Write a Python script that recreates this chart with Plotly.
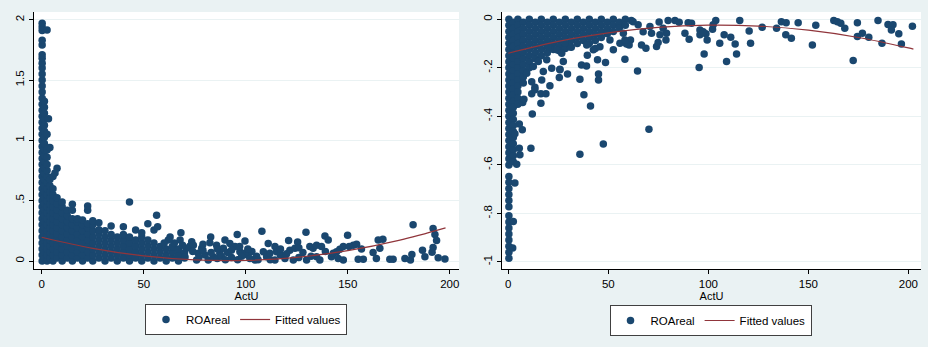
import plotly.graph_objects as go

# ---------------- Left panel: ROAreal (positive) vs ActU ----------------
left_col_x = [0.2, 1.3, 2.6, 4.0, 5.5, 7.5, 10, 12.5, 15, 17.5, 20, 22.5, 25, 28,
              31, 34, 37, 40, 43, 46, 49, 52, 55, 58, 61, 64, 67, 70]
left_col_y = [
    [0.0, 0.05, 0.1, 0.15, 0.2, 0.25, 0.3, 0.35, 0.4, 0.45, 0.5, 0.55, 0.6, 0.65, 0.7, 0.75,
     0.8, 0.85, 0.9, 0.95, 1.0, 1.05, 1.1, 1.15, 1.2, 1.25, 1.3, 1.35, 1.4, 1.45, 1.5, 1.55,
     1.6, 1.64, 1.68, 1.71, 1.79, 1.83, 1.91, 1.94, 1.97],
    [0.025, 0.075, 0.125, 0.175, 0.225, 0.275, 0.325, 0.375, 0.425, 0.475, 0.525, 0.575,
     0.625, 0.675, 0.725, 0.775, 0.825, 0.875, 0.925, 0.975, 1.025, 1.075, 1.125, 1.175,
     1.225, 1.275, 1.325],
    [0.0, 0.05, 0.1, 0.15, 0.2, 0.25, 0.3, 0.35, 0.4, 0.45, 0.5, 0.55, 0.6, 0.65, 0.7, 0.75,
     0.8, 0.86, 0.92, 1.05],
    [0.025, 0.075, 0.125, 0.175, 0.225, 0.275, 0.325, 0.375, 0.425, 0.475, 0.525, 0.575,
     0.625, 0.675, 0.94],
    [0.0, 0.05, 0.1, 0.15, 0.2, 0.25, 0.3, 0.35, 0.4, 0.45, 0.5, 0.55, 0.6, 0.7],
    [0.025, 0.075, 0.125, 0.175, 0.225, 0.275, 0.325, 0.375, 0.425, 0.475, 0.525, 0.77],
    [0.0, 0.05, 0.1, 0.15, 0.2, 0.25, 0.3, 0.35, 0.4, 0.45, 0.49],
    [0.025, 0.075, 0.125, 0.175, 0.225, 0.275, 0.325, 0.375, 0.42],
    [0.0, 0.05, 0.1, 0.15, 0.2, 0.25, 0.3, 0.35, 0.42, 0.47],
    [0.025, 0.075, 0.125, 0.175, 0.225, 0.275, 0.325, 0.35],
    [0.0, 0.05, 0.1, 0.15, 0.2, 0.25, 0.3, 0.34],
    [0.025, 0.075, 0.125, 0.175, 0.225, 0.275, 0.31, 0.42, 0.456],
    [0.0, 0.05, 0.1, 0.15, 0.2, 0.25, 0.3, 0.334],
    [0.025, 0.075, 0.125, 0.175, 0.225, 0.26, 0.318],
    [0.0, 0.05, 0.1, 0.15, 0.2, 0.25],
    [0.025, 0.075, 0.125, 0.175, 0.22, 0.29],
    [0.0, 0.05, 0.1, 0.15, 0.2],
    [0.025, 0.075, 0.125, 0.175, 0.22, 0.285],
    [0.0, 0.05, 0.1, 0.15, 0.2, 0.49],
    [0.025, 0.075, 0.125, 0.175, 0.257],
    [0.0, 0.05, 0.1, 0.15, 0.2, 0.235],
    [0.025, 0.075, 0.125, 0.175, 0.31],
    [0.0, 0.05, 0.1, 0.15, 0.257],
    [0.025, 0.075, 0.12],
    [0.0, 0.05, 0.1],
    [0.025, 0.075, 0.12],
    [0.0, 0.05, 0.1],
    [0.025, 0.07],
]
left_sparse_x = [3.3, 2.6, 6.5, 56.3, 56.8, 62.9, 62, 67.8, 68.2, 72.7,
                 73.5, 74.3, 71, 70.2, 75.9, 76.7, 78.4, 80, 81.6, 82.4,
                 82.8, 84.1, 85.7, 87.3, 89, 89.8, 92.2, 94.7, 95.8, 97.1,
                 99.6, 99.6, 100.8, 104.5, 105.3, 107.9, 108.6, 110.2, 111, 111.8,
                 114.3, 114.3, 115.1, 119.2, 121, 121.6, 123.3, 124.1, 125.4, 129.5,
                 129.8, 131.4, 133, 134.7, 134.7, 136.3, 137.1, 138.8, 140.4, 142,
                 142.9, 144.5, 145.3, 146.1, 147.8, 147.8, 149.9, 150.7, 152.7, 154.3,
                 155.1, 156.7, 157.6, 162.4, 164, 164.9, 165.7, 167.2, 170.6, 172.2,
                 178, 180.7, 181.4, 182, 186.6, 187.8, 191.3, 191.8, 191.8, 192.7,
                 193.5, 194.3, 197.6, 77, 79, 83, 86, 88, 90, 91,
                 93, 96, 98, 102, 103, 106, 112, 117, 120, 126,
                 128, 132, 139, 60, 65, 69, 74, 79, 86, 93,
                 97, 101, 117, 126]
left_sparse_y = [1.18, 1.915, 0.73, 0.38, 0.285, 0.2, 0.174, 0.174, 0.235, 0.124,
                 0.16, 0.13, 0.105, 0.036, 0.008, 0.064, 0.105, 0.05, 0.008, 0.152,
                 0.2, 0.036, 0.13, 0.064, 0.105, 0.174, 0.146, 0.12, 0.22, 0.077,
                 0.064, 0.166, 0.05, 0.008, 0.04, 0.246, 0.077, 0.036, 0.146, 0.064,
                 0.12, 0.008, 0.077, 0.022, 0.17, 0.09, 0.008, 0.105, 0.157, 0.238,
                 0.008, 0.12, 0.105, 0.13, 0.036, 0.008, 0.12, 0.207, 0.174, 0.036,
                 0.064, 0.077, 0.022, 0.097, 0.12, 0.008, 0.213, 0.12, 0.13, 0.14,
                 0.014, 0.1, 0.014, 0.07, 0.02, 0.174, 0.105, 0.18, 0.014, 0.014,
                 0.022, 0.008, 0.055, 0.3, 0.09, 0.036, 0.072, 0.113, 0.27, 0.22,
                 0.17, 0.028, 0.017, 0.03, 0.09, 0.07, 0.02, 0.04, 0.01, 0.07,
                 0.03, 0.01, 0.04, 0.02, 0.08, 0.01, 0.01, 0.05, 0.06, 0.03,
                 0.07, 0.04, 0.08, 0.15, 0.15, 0.13, 0.08, 0.14, 0.1, 0.09,
                 0.12, 0.1, 0.1, 0.11]
left_fit_x = [0, 25, 50, 75, 100, 125, 150, 175, 197.9]
left_fit_y = [0.197, 0.105, 0.042, 0.009, 0.005, 0.031, 0.086, 0.171, 0.275]

# ---------------- Right panel: ROAreal (negative) vs ActU ----------------
right_col_x = [0.3, 2.5, 4.8, 7.5, 10.5, 13.5, 16.5, 19.5, 22.5, 25.5, 28.5,
               31.5, 34.5, 37.5, 40.5, 43.5, 46.5, 49.5, 52.5, 55.5, 58.5, 61.5]
right_col_y = [
    [0, -0.025, -0.05, -0.075, -0.1, -0.125, -0.15, -0.175, -0.2, -0.225, -0.25, -0.275,
     -0.3, -0.325, -0.35, -0.375, -0.4, -0.425, -0.45, -0.475, -0.5, -0.525, -0.55, -0.575,
     -0.6, -0.648, -0.672, -0.697, -0.722, -0.747, -0.772, -0.81, -0.835, -0.86, -0.885,
     -0.91, -0.935, -0.96, -0.985],
    [-0.0125, -0.0375, -0.0625, -0.0875, -0.1125, -0.1375, -0.1625, -0.1875, -0.2125,
     -0.2375, -0.2625, -0.2875, -0.3125, -0.3375, -0.3625, -0.3875, -0.4125, -0.4375,
     -0.4625, -0.4875, -0.5125, -0.5375, -0.5625, -0.5875],
    [0, -0.025, -0.05, -0.075, -0.1, -0.125, -0.15, -0.175, -0.2, -0.225, -0.25, -0.275,
     -0.3, -0.325, -0.35],
    [-0.0125, -0.0375, -0.0625, -0.0875, -0.1125, -0.1375, -0.1625, -0.1875, -0.2125,
     -0.2375, -0.2625],
    [0, -0.025, -0.05, -0.075, -0.1, -0.125, -0.15, -0.175, -0.2],
    [-0.0125, -0.0375, -0.0625, -0.0875, -0.1125, -0.1375, -0.1625],
    [0, -0.025, -0.05, -0.075, -0.1, -0.125, -0.15],
    [-0.0125, -0.0375, -0.0625, -0.0875, -0.1125, -0.1375],
    [0, -0.025, -0.05, -0.075, -0.1, -0.125],
    [-0.0125, -0.0375, -0.0625, -0.0875, -0.1125, -0.13],
    [0, -0.025, -0.05, -0.075, -0.1, -0.12],
    [-0.0125, -0.0375, -0.0625, -0.0875, -0.115],
    [0, -0.025, -0.05, -0.075, -0.1],
    [-0.0125, -0.0375, -0.0625, -0.0875],
    [0, -0.025, -0.05, -0.075, -0.1],
    [-0.0125, -0.0375, -0.0625, -0.0875, -0.12],
    [0, -0.025, -0.05, -0.075],
    [-0.0125, -0.0375, -0.06],
    [0, -0.025, -0.05],
    [-0.0125, -0.035],
    [0, -0.025],
    [-0.005],
]
right_sparse_x = [70.3, 47.5, 35.8, 11.3, 12, 41.1, 37.8, 35.8, 45.1, 45.1,
                  29.6, 25.5, 25.8, 20.8, 16.3, 16.3, 18.8, 11.7, 13.3, 7.2,
                  7.8, 7, 5.5, 3.3, 4.2, 5.5, 5.8, 3.3, 2.5, 2.2,
                  64.6, 58.3, 44.6, 48.6, 39.5, 36.6, 39.1, 95.4, 97.9, 109.1,
                  114.1, 113.4, 111.2, 107.9, 105.7, 121.1, 120.4, 115.7, 103.7, 102.1,
                  102.4, 99.4, 98.8, 95.8, 95.8, 97.4, 90.4, 88.3, 91.6, 89.9,
                  85.4, 83.3, 79.9, 75.4, 77.4, 79.1, 78.8, 75.8, 74.1, 74.9,
                  71.6, 70.8, 68.8, 66.6, 67.4, 64.9, 62.4, 61.1, 60.4, 57.5,
                  59.1, 126.9, 134.1, 136.5, 138.9, 138.7, 141.5, 144.9, 152, 153.7,
                  162.7, 164.5, 166.2, 168.2, 172.4, 174.5, 174.5, 177, 180.2, 184.8,
                  186.8, 189.8, 192.3, 191.5, 195.2, 196.5, 202, 12.5, 15, 19.2,
                  17.5, 21.7, 25.8, 27.5, 24.2, 26.7, 16.7, 13.3, 11.7, 9.2,
                  20, 42.5, 45.8, 52.5, 55.8, 58.3, 50.8, 39.2, 30.8, 28.3]
right_sparse_y = [-0.453, -0.514, -0.556, -0.531, -0.39, -0.357, -0.311, -0.247, -0.25, -0.225,
                  -0.225, -0.24, -0.206, -0.274, -0.346, -0.307, -0.307, -0.307, -0.28, -0.343,
                  -0.33, -0.455, -0.431, -0.472, -0.597, -0.531, -0.558, -0.675, -0.833, -0.942,
                  -0.213, -0.165, -0.167, -0.178, -0.148, -0.188, -0.192, -0.199, -0.143, -0.174,
                  -0.143, -0.102, -0.074, -0.064, -0.099, -0.099, -0.048, -0.005, -0.005, -0.041,
                  -0.023, -0.085, -0.06, -0.044, -0.064, -0.051, -0.082, -0.058, -0.016, -0.014,
                  -0.012, -0.005, -0.005, -0.011, -0.037, -0.058, -0.085, -0.064, -0.112, -0.096,
                  -0.058, -0.03, -0.119, -0.106, -0.051, -0.023, -0.01, -0.085, -0.106, -0.058,
                  -0.102, -0.033, -0.037, -0.01, -0.014, -0.064, -0.078, -0.014, -0.106, -0.025,
                  -0.005, -0.01, -0.016, -0.037, -0.17, -0.014, -0.071, -0.058, -0.074, -0.005,
                  -0.099, -0.021, -0.023, -0.044, -0.06, -0.102, -0.029, -0.195, -0.174, -0.167,
                  -0.215, -0.202, -0.208, -0.174, -0.126, -0.14, -0.25, -0.29, -0.257, -0.222,
                  -0.113, -0.126, -0.113, -0.126, -0.099, -0.085, -0.085, -0.106, -0.113, -0.099]
right_fit_x = [0, 25, 50, 75, 100, 125, 150, 175, 200, 202.5]
right_fit_y = [-0.14, -0.091, -0.056, -0.033, -0.024, -0.028, -0.045, -0.075, -0.118, -0.123]

x_ticks = [0, 50, 100, 150, 200]
x_tick_text = ["0", "50", "100", "150", "200"]
left_y_ticks = [0, 0.5, 1, 1.5, 2]
left_y_text = ["0", ".5", "1", "1.5", "2"]
right_y_ticks = [-1, -0.8, -0.6, -0.4, -0.2, 0]
right_y_text = ["-1", "-.8", "-.6", "-.4", "-.2", "0"]

assert len(left_sparse_x) == len(left_sparse_y)
assert len(right_sparse_x) == len(right_sparse_y)


def flatten(col_x, col_y, sx, sy):
    xs, ys = [], []
    for cx, cys in zip(col_x, col_y):
        xs += [cx] * len(cys)
        ys += list(cys)
    return xs + list(sx), ys + list(sy)


lx, ly = flatten(left_col_x, left_col_y, left_sparse_x, left_sparse_y)
rx, ry = flatten(right_col_x, right_col_y, right_sparse_x, right_sparse_y)

NAVY = "#1a476f"
MAROON = "#90353b"
BG = "#eaf2f3"
FONT = "Liberation Sans, Arial, sans-serif"
W, H = 933, 349
MSIZE = 7.5

fig = go.Figure()
fig.add_trace(go.Scatter(x=lx, y=ly, mode="markers", name="ROAreal",
                         marker=dict(color=NAVY, size=MSIZE, line=dict(width=0)),
                         xaxis="x", yaxis="y", legend="legend"))
fig.add_trace(go.Scatter(x=left_fit_x, y=left_fit_y, mode="lines", name="Fitted values",
                         line=dict(color=MAROON, width=1.2, shape="spline"),
                         xaxis="x", yaxis="y", legend="legend"))
fig.add_trace(go.Scatter(x=rx, y=ry, mode="markers", name="ROAreal",
                         marker=dict(color=NAVY, size=MSIZE, line=dict(width=0)),
                         xaxis="x2", yaxis="y2", legend="legend2"))
fig.add_trace(go.Scatter(x=right_fit_x, y=right_fit_y, mode="lines", name="Fitted values",
                         line=dict(color=MAROON, width=1.2, shape="spline"),
                         xaxis="x2", yaxis="y2", legend="legend2"))

axis_common = dict(showline=True, linecolor="#000", linewidth=1, ticks="outside",
                   ticklen=4, tickcolor="#000", tickfont=dict(size=11.5, color="#000"),
                   zeroline=False, mirror=False)

ydom = [1 - 269 / H, 1 - 12 / H]
fig.update_layout(
    width=W, height=H,
    margin=dict(l=0, r=0, t=0, b=0),
    paper_bgcolor=BG, plot_bgcolor="white",
    font=dict(family=FONT, color="#000", size=11.5),
    xaxis=dict(domain=[34 / W, 459 / W], range=[-3.8, 204.5], tickvals=x_ticks,
               ticktext=x_tick_text, showgrid=False, anchor="y",
               title=dict(text="ActU", font=dict(size=11), standoff=2), **axis_common),
    yaxis=dict(domain=ydom, range=[-0.066, 2.064], tickvals=left_y_ticks,
               ticktext=left_y_text, tickangle=-90, showgrid=True, gridcolor=BG,
               gridwidth=1, anchor="x", **axis_common),
    xaxis2=dict(domain=[502 / W, 921 / W], range=[-3.15, 206.3], tickvals=x_ticks,
                ticktext=x_tick_text, showgrid=False, anchor="y2",
                title=dict(text="ActU", font=dict(size=11), standoff=2), **axis_common),
    yaxis2=dict(domain=ydom, range=[-1.029, 0.030], tickvals=right_y_ticks,
                ticktext=right_y_text, tickangle=-90, showgrid=True, gridcolor=BG,
                gridwidth=1, anchor="x2", **axis_common),
    legend=dict(orientation="h", x=246 / W, xanchor="center", y=1 - 319.5 / H,
                yanchor="middle", bgcolor="white", bordercolor="#404040", borderwidth=1,
                font=dict(size=11.5), itemwidth=30),
    legend2=dict(orientation="h", x=710.5 / W, xanchor="center", y=1 - 320.5 / H,
                 yanchor="middle", bgcolor="white", bordercolor="#404040", borderwidth=1,
                 font=dict(size=11.5), itemwidth=30),
    shapes=[
        dict(type="rect", xref="paper", yref="paper", x0=928 / W, x1=1, y0=0, y1=1,
             fillcolor="white", line=dict(width=0), layer="below"),
        dict(type="rect", xref="paper", yref="paper", x0=0, x1=1, y0=0, y1=2 / H,
             fillcolor="white", line=dict(width=0), layer="below"),
    ],
)

fig.write_html("out.html")
